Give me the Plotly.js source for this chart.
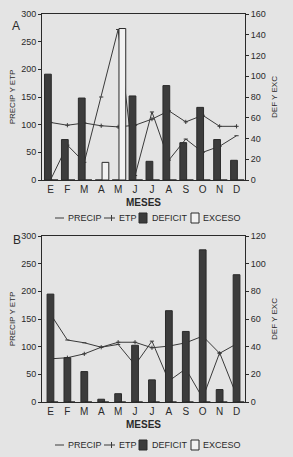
<!DOCTYPE html>
<html>
<head>
<meta charset="utf-8">
<script src="https://cdn.plot.ly/plotly-3.0.1.min.js"></script>
<style>
  html, body { margin: 0; padding: 0; background: #e4e4e4; }
  #chart { width: 293px; height: 457px; }
</style>
</head>
<body>
<div id="chart"></div>
<script>
// ---- data ----
var months = ['E', 'F', 'M', 'A', 'M', 'J', 'J', 'A', 'S', 'O', 'N', 'D'];
var monthIdx = months.map(function (_, i) { return i; });

// Panel A
var precipA  = [0, 63, 32, 150, 272, 8, 123, 36, 74, 50, 61, 80];
var etpA     = [104, 99, 103, 98, 96, 99, 110, 125, 105, 117, 97, 97];
var deficitA = [102, 39, 79, 0, 0, 81, 18, 91, 36, 70, 39, 19];
var excesoA  = [0, 0, 0, 17, 146, 0, 0, 0, 0, 0, 0, 0];

// Panel B
var precipB  = [159, 112, 107, 99, 104, 67, 110, 38, 60, 7, 89, 12];
var etpB     = [78, 80, 87, 99, 108, 108, 98, 101, 107, 119, 88, 105];
var deficitB = [78, 32, 22, 2, 6, 41, 16, 66, 51, 110, 9, 92];
var excesoB  = [0, 0, 0, 0, 0, 0, 0, 0, 0, 0, 0, 0];

var leftTicks = [0, 50, 100, 150, 200, 250, 300];

// ---- styles ----
var ink = '#2a2a2a';
var bg = '#e4e4e4';
var FONT = 'Liberation Sans, Arial, Helvetica, sans-serif';

function lineTrace(y, xa, ya, sym) {
  return {
    type: 'scatter', mode: 'lines+markers', x: monthIdx, y: y, xaxis: xa, yaxis: ya,
    line: { color: '#3a3a3a', width: 1 },
    marker: { symbol: sym, size: 3, color: '#3a3a3a', line: { color: '#3a3a3a', width: 1 } },
    showlegend: false, hoverinfo: 'skip'
  };
}
function barTrace(y, xa, ya, fill, offset) {
  return {
    type: 'bar', x: monthIdx, y: y, xaxis: xa, yaxis: ya,
    width: 0.4, offset: offset,
    marker: { color: fill, line: { color: ink, width: 1 } },
    showlegend: false, hoverinfo: 'skip'
  };
}

var data = [
  barTrace(deficitA, 'x', 'y2', '#3c3c3c', -0.35),
  barTrace(excesoA, 'x', 'y2', '#f2f2f2', 0.05),
  lineTrace(precipA, 'x', 'y', 'line-ew'),
  lineTrace(etpA, 'x', 'y', 'cross-thin'),
  barTrace(deficitB, 'x2', 'y4', '#3c3c3c', -0.2),
  barTrace(excesoB, 'x2', 'y4', '#f2f2f2', 0.05),
  lineTrace(precipB, 'x2', 'y3', 'line-ew'),
  lineTrace(etpB, 'x2', 'y3', 'cross-thin')
];

function xAxis(anchor) {
  return {
    anchor: anchor, domain: [0, 1], range: [-0.5, 11.5],
    tickmode: 'array', tickvals: monthIdx, ticktext: months,
    showline: true, mirror: true, linecolor: ink, linewidth: 1,
    ticks: '', showgrid: false, zeroline: false,
    tickfont: { size: 10, color: ink },
    title: { text: '<b>MESES</b>', font: { size: 10, color: ink }, standoff: 4 }
  };
}
function yLeft(anchor, domain) {
  return {
    anchor: anchor, domain: domain, range: [0, 300],
    tickmode: 'array', tickvals: leftTicks,
    showline: true, linecolor: ink, linewidth: 1,
    ticks: 'outside', ticklen: 3, tickcolor: ink,
    showgrid: false, zeroline: false,
    tickfont: { size: 9, color: ink },
    title: { text: 'PRECIP Y ETP', font: { size: 8, color: ink }, standoff: 4 }
  };
}
function yRight(anchor, over, max) {
  return {
    anchor: anchor, overlaying: over, side: 'right', range: [0, max], dtick: 20,
    showline: true, linecolor: ink, linewidth: 1,
    ticks: 'outside', ticklen: 3, tickcolor: ink,
    showgrid: false, zeroline: false,
    tickfont: { size: 9, color: ink },
    title: { text: 'DEF Y EXC', font: { size: 8, color: ink }, standoff: 6 }
  };
}

// legend (custom, compact) : positions in paper coords
var PL = 42, PW = 203, PB = 402, PH = 388;
function px(x) { return (x - PL) / PW; }
function py(y) { return (PB - y) / PH; }

var annotations = [
  { text: 'A', x: px(10), y: py(17), xref: 'paper', yref: 'paper', showarrow: false, font: { size: 12, color: ink } },
  { text: 'B', x: px(11), y: py(240), xref: 'paper', yref: 'paper', showarrow: false, font: { size: 12, color: ink } }
];
var shapes = [];
function addLegend(yc) {
  var items = [
    { kind: 'line', x0: 55, x1: 64, tx: 66, label: 'PRECIP' },
    { kind: 'cross', x0: 104, x1: 115, tx: 117, label: 'ETP' },
    { kind: 'dark', x0: 139, x1: 147, tx: 150, label: 'DEFICIT' },
    { kind: 'light', x0: 191, x1: 199, tx: 201, label: 'EXCESO' }
  ];
  items.forEach(function (it) {
    annotations.push({
      text: it.label, x: px(it.tx), y: py(yc), xref: 'paper', yref: 'paper',
      xanchor: 'left', yanchor: 'middle', showarrow: false,
      font: { size: 9, color: ink }
    });
    if (it.kind === 'line' || it.kind === 'cross') {
      shapes.push({ type: 'line', xref: 'paper', yref: 'paper', x0: px(it.x0), x1: px(it.x1), y0: py(yc), y1: py(yc), line: { color: '#3a3a3a', width: 1 } });
      if (it.kind === 'cross') {
        var cx = (it.x0 + it.x1) / 2 + 2;
        shapes.push({ type: 'line', xref: 'paper', yref: 'paper', x0: px(cx), x1: px(cx), y0: py(yc - 3), y1: py(yc + 3), line: { color: '#3a3a3a', width: 1 } });
      }
    } else {
      shapes.push({ type: 'rect', xref: 'paper', yref: 'paper', x0: px(it.x0), x1: px(it.x1), y0: py(yc + 5), y1: py(yc - 5),
        fillcolor: it.kind === 'dark' ? '#3c3c3c' : '#f2f2f2', line: { color: ink, width: 1 } });
    }
  });
}
addLegend(218);
addLegend(445);

var layout = {
  width: 293, height: 457,
  paper_bgcolor: bg, plot_bgcolor: bg,
  margin: { l: 42, r: 48, t: 14, b: 55, pad: 0 },
  showlegend: false,
  barmode: 'overlay',
  font: { family: FONT, size: 10, color: ink },
  xaxis: xAxis('y'),
  yaxis: yLeft('x', [py(180), 1]),
  yaxis2: yRight('x', 'y', 160),
  xaxis2: xAxis('y3'),
  yaxis3: yLeft('x2', [0, py(236)]),
  yaxis4: yRight('x2', 'y3', 120),
  annotations: annotations,
  shapes: shapes
};

Plotly.newPlot('chart', data, layout, { staticPlot: true, displayModeBar: false });
</script>
</body>
</html>
